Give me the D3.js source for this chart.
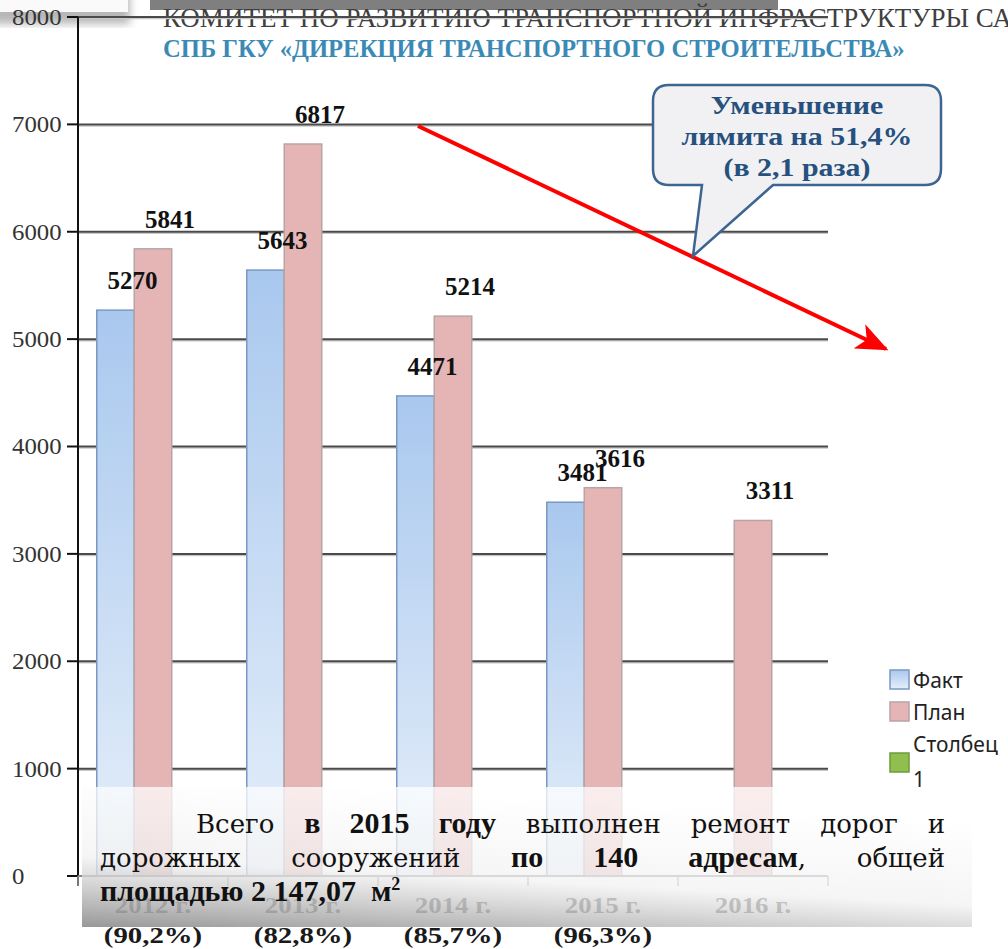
<!DOCTYPE html>
<html>
<head>
<meta charset="utf-8">
<script src="https://cdn.jsdelivr.net/npm/d3@7.9.0/dist/d3.min.js"></script>
<style>
  body { margin: 0; background: #fff; }
  svg { display: block; }
  .note { font-family: 'DejaVu Serif', serif; font-size: 26px; color: #111; }
  .note b { font-family: 'Liberation Serif', serif; font-size: 30px; }
  .note div { width: 845px; text-align: justify; text-align-last: justify; line-height: 34px; height: 34px; white-space: nowrap; }
  .note div.last { text-align-last: left; }
</style>
</head>
<body>
<svg id="chart" width="1008" height="949"></svg>
<script>
const years = ['2012 г.', '2013 г.', '2014 г.', '2015 г.', '2016 г.'];
const percents = ['(90,2%)', '(82,8%)', '(85,7%)', '(96,3%)', ''];
const seriesNames = ['Факт', 'План', 'Столбец 1'];
const fact = [5270, 5643, 4471, 3481, null];
const plan = [5841, 6817, 5214, 3616, 3311];
const column1 = [null, null, null, null, null];
const yTicks = [0, 1000, 2000, 3000, 4000, 5000, 6000, 7000, 8000];

const svg = d3.select('#chart');
const defs = svg.append('defs');

// stretch a text horizontally around its own x
function stretch(sel, k) {
  sel.attr('transform', function () {
    const x = +d3.select(this).attr('x');
    return `translate(${x},0) scale(${k},1) translate(${-x},0)`;
  });
}

// bar gradient for "Факт"
const gFact = defs.append('linearGradient').attr('id', 'gFact')
  .attr('x1', 0).attr('y1', 0).attr('x2', 0).attr('y2', 1);
gFact.append('stop').attr('offset', '0%').attr('stop-color', '#a9c8ee');
gFact.append('stop').attr('offset', '100%').attr('stop-color', '#e6effa');

// overlay box gradient
const gBox = defs.append('linearGradient').attr('id', 'gBox')
  .attr('x1', 0).attr('y1', 1).attr('x2', 0.35).attr('y2', 0);
gBox.append('stop').attr('offset', '0%').attr('stop-color', '#8c8c8c').attr('stop-opacity', 0.9);
gBox.append('stop').attr('offset', '45%').attr('stop-color', '#f2f2f2').attr('stop-opacity', 0.75);
gBox.append('stop').attr('offset', '100%').attr('stop-color', '#ffffff').attr('stop-opacity', 0.75);

defs.append('filter').attr('id', 'blur').append('feGaussianBlur').attr('stdDeviation', 4);

defs.append('marker').attr('id', 'arrow')
  .attr('viewBox', '0 0 12 10').attr('refX', 11).attr('refY', 5)
  .attr('markerWidth', 8).attr('markerHeight', 7).attr('orient', 'auto')
  .attr('markerUnits', 'strokeWidth')
  .append('path').attr('d', 'M0,0 L12,5 L0,10 L3,5 Z').attr('fill', '#ff0000');

const colors = d3.scaleOrdinal().domain(seriesNames).range(['url(#gFact)', '#e5b5b5', '#8fbf4f']);
const strokes = d3.scaleOrdinal().domain(seriesNames).range(['#7b98c2', '#b8a4a4', '#6f9a3c']);

const x0 = d3.scaleBand().domain(years).range([78, 828]).paddingInner(0.25).paddingOuter(0.125);
const x1 = d3.scaleBand().domain(seriesNames).range([0, x0.bandwidth()]);
const y = d3.scaleLinear().domain([0, 8000]).range([876, 17]);

// top decorations
svg.append('rect').attr('x', -10).attr('y', -10).attr('width', 140).attr('height', 34)
  .attr('fill', '#999').attr('filter', 'url(#blur)').attr('opacity', 0.7);
svg.append('rect').attr('x', 0).attr('y', 0).attr('width', 128).attr('height', 12).attr('fill', '#fafafa');
svg.append('rect').attr('x', 150).attr('y', 0).attr('width', 628).attr('height', 10).attr('fill', '#7f7f7f');

// header texts
function fitText(sel, prefixLen, target) {
  const w = sel.node().getSubStringLength(0, prefixLen);
  const fs = parseFloat(sel.attr('font-size'));
  sel.attr('font-size', fs * target / w);
}
const h1 = svg.append('text').attr('x', 163).attr('y', 27)
  .attr('font-family', 'Liberation Serif, serif').attr('font-size', 22)
  .attr('fill', '#404040')
  .text('КОМИТЕТ ПО РАЗВИТИЮ ТРАНСПОРТНОЙ ИНФРАСТРУКТУРЫ САНКТ-ПЕТЕРБУРГА');
fitText(h1, 'КОМИТЕТ ПО РАЗВИТИЮ ТРАНСПОРТНОЙ ИНФРАСТРУКТУРЫ С'.length, 830);
const h2text = 'СПБ ГКУ «ДИРЕКЦИЯ ТРАНСПОРТНОГО СТРОИТЕЛЬСТВА»';
const h2 = svg.append('text').attr('x', 163).attr('y', 57)
  .attr('font-family', 'Liberation Serif, serif').attr('font-size', 21).attr('font-weight', 'bold')
  .attr('fill', '#3b8ab6').text(h2text);
fitText(h2, h2text.length, 742);

// gridlines
const grid = svg.append('g');
grid.selectAll('line.shadow').data(yTicks.filter(d => d > 0)).join('line')
  .attr('x1', 78).attr('x2', 828).attr('y1', d => y(d) + 1.5).attr('y2', d => y(d) + 1.5)
  .attr('stroke', '#c8c8c8').attr('stroke-width', 1.5);
grid.selectAll('line.main').data(yTicks.filter(d => d > 0)).join('line')
  .attr('x1', 78).attr('x2', 828).attr('y1', d => y(d)).attr('y2', d => y(d))
  .attr('stroke', '#4a4a4a').attr('stroke-width', 2);

// bars
const series = [fact, plan, column1];
const rows = years.map((yr, i) => ({ year: yr, values: seriesNames.map((s, k) => ({ key: s, value: series[k][i] })) }));

const groups = svg.append('g').selectAll('g').data(rows).join('g')
  .attr('transform', d => `translate(${x0(d.year)},0)`);
groups.selectAll('rect').data(d => d.values.filter(v => v.value != null)).join('rect')
  .attr('x', d => x1(d.key)).attr('width', x1.bandwidth())
  .attr('y', d => y(d.value)).attr('height', d => y(0) - y(d.value))
  .attr('fill', d => colors(d.key)).attr('stroke', d => strokes(d.key)).attr('stroke-width', 1.5);

// value labels
groups.selectAll('text').data(d => d.values.filter(v => v.value != null)).join('text')
  .attr('x', d => x1(d.key) + x1.bandwidth() / 2 + 17)
  .attr('y', d => y(d.value) - 21)
  .attr('text-anchor', 'middle')
  .attr('font-family', 'Liberation Serif, serif').attr('font-weight', 'bold').attr('font-size', 25)
  .attr('fill', '#111').text(d => d.value);

// y axis
svg.append('line').attr('x1', 78).attr('x2', 78).attr('y1', 17).attr('y2', 886)
  .attr('stroke', '#111').attr('stroke-width', 2);
svg.append('g').selectAll('line').data(yTicks).join('line')
  .attr('x1', 67).attr('x2', 78).attr('y1', d => y(d)).attr('y2', d => y(d))
  .attr('stroke', '#111').attr('stroke-width', 2);
svg.append('g').selectAll('text').data(yTicks).join('text')
  .attr('x', 12).attr('y', d => y(d) + 8)
  .attr('font-family', 'Liberation Serif, serif').attr('font-size', 23)
  .attr('fill', '#333').text(d => d)
  .call(stretch, 1.08);

// x axis
const center = d => x0(d) + x0.bandwidth() / 2;
svg.append('line').attr('x1', 78).attr('x2', 828).attr('y1', 876).attr('y2', 876)
  .attr('stroke', '#8a8a8a').attr('stroke-width', 2);
const bounds = years.map(d => x0(d) - x0.step() * x0.paddingInner() / 2).concat([828]);
svg.append('g').selectAll('line').data(bounds).join('line')
  .attr('x1', d => d).attr('x2', d => d).attr('y1', 876).attr('y2', 886)
  .attr('stroke', '#9a9a9a').attr('stroke-width', 1.5);
svg.append('g').selectAll('text').data(years).join('text')
  .attr('x', d => center(d)).attr('y', 913)
  .attr('text-anchor', 'middle')
  .attr('font-family', 'Liberation Serif, serif').attr('font-weight', 'bold').attr('font-size', 24)
  .attr('fill', '#444').text(d => d)
  .call(stretch, 1.12);
svg.append('g').selectAll('text').data(percents).join('text')
  .attr('x', (d, i) => center(years[i])).attr('y', 943)
  .attr('text-anchor', 'middle')
  .attr('font-family', 'Liberation Serif, serif').attr('font-weight', 'bold').attr('font-size', 24)
  .attr('fill', '#1a1a1a').text(d => d)
  .call(stretch, 1.2);

// legend
const legend = svg.append('g').attr('transform', 'translate(890,670)');
const legendRows = [
  { key: 'Факт', y: 0, lines: ['Факт'] },
  { key: 'План', y: 32, lines: ['План'] },
  { key: 'Столбец 1', y: 83, lines: ['Столбец', '1'] }
];
legendRows.forEach(r => {
  legend.append('rect').attr('x', 0).attr('y', r.y).attr('width', 19).attr('height', 19)
    .attr('fill', colors(r.key)).attr('stroke', strokes(r.key)).attr('stroke-width', 1.5);
  const t = legend.append('text').attr('x', 23)
    .attr('y', r.lines.length > 1 ? r.y - 1 : r.y + 18)
    .attr('font-family', 'Noto Sans, sans-serif').attr('font-size', 21).attr('fill', '#222');
  r.lines.forEach((l, i) => t.append('tspan').attr('x', 23).attr('dy', i ? 35 : 0).text(l));
});

// red trend arrow
svg.append('line').attr('x1', 418).attr('y1', 126).attr('x2', 886).attr('y2', 349)
  .attr('stroke', '#ff0000').attr('stroke-width', 4).attr('marker-end', 'url(#arrow)');

// callout
const cl = 653, ct = 85, cr = 941, cb = 185, rad = 16;
const callout = d3.path();
callout.moveTo(cl + rad, ct);
callout.lineTo(cr - rad, ct);
callout.quadraticCurveTo(cr, ct, cr, ct + rad);
callout.lineTo(cr, cb - rad);
callout.quadraticCurveTo(cr, cb, cr - rad, cb);
callout.lineTo(773, cb);
callout.lineTo(693, 256);
callout.lineTo(702, cb);
callout.lineTo(cl + rad, cb);
callout.quadraticCurveTo(cl, cb, cl, cb - rad);
callout.lineTo(cl, ct + rad);
callout.quadraticCurveTo(cl, ct, cl + rad, ct);
callout.closePath();
svg.append('path').attr('d', callout.toString())
  .attr('fill', '#f1f1f3').attr('stroke', '#3d6591').attr('stroke-width', 2.5);
svg.append('g').selectAll('text')
  .data(['Уменьшение', 'лимита на 51,4%', '(в 2,1 раза)']).join('text')
  .attr('x', 797).attr('y', (d, i) => 114 + i * 31)
  .attr('text-anchor', 'middle')
  .attr('font-family', 'Liberation Serif, serif').attr('font-weight', 'bold').attr('font-size', 26)
  .attr('fill', '#26507e').text(d => d)
  .call(stretch, 1.15);

// overlay note box
svg.append('rect').attr('x', 82).attr('y', 787).attr('width', 890).attr('height', 140)
  .attr('fill', 'url(#gBox)');
const fo = svg.append('foreignObject').attr('x', 100).attr('y', 806).attr('width', 860).attr('height', 121);
fo.append('xhtml:div').attr('class', 'note').html(
  '<div style="padding-left:96px;width:749px">Всего <b>в 2015 году</b> выполнен ремонт дорог и</div>' +
  '<div>дорожных сооружений <b>по 140 адресам</b>, общей</div>' +
  '<div class="last"><b>площадью 2 147,07&nbsp; м<sup style="font-size:18px;line-height:0">2</sup></b></div>'
);
</script>
</body>
</html>
